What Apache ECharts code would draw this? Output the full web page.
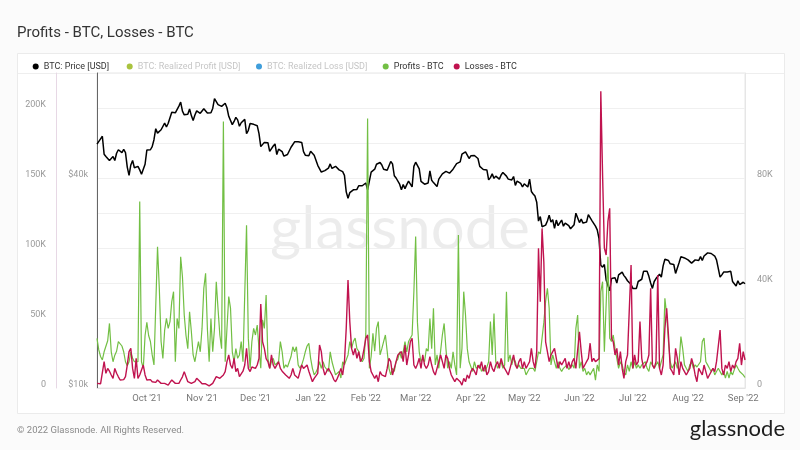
<!DOCTYPE html>
<html>
<head>
<meta charset="utf-8">
<script src="https://cdn.jsdelivr.net/npm/echarts@6/dist/echarts.min.js"></script>
<style>html,body{margin:0;padding:0;background:#fbfbfb}#c{width:800px;height:450px}</style>
</head>
<body>
<div id="c"></div>
<script>
// first date of the daily series and number of days
const startDate = '2021-09-03';
const dayCount = 365;

// BTC price, thousands of USD (daily)
const priceK = [
50.0,49.9,51.8,52.7,46.8,46.1,46.4,44.9,45.2,46.1,44.9,47.1,48.2,47.8,47.3,48.3,47.3,43.0,40.7,43.6,44.9,42.8,42.7,43.2,42.2,41.0,41.5,43.8,
48.1,47.7,48.2,49.2,51.5,55.4,53.8,53.9,55.0,54.7,57.5,56.0,57.4,57.3,61.7,60.9,61.5,62.0,64.3,66.0,62.2,60.7,61.4,60.9,63.1,60.4,58.5,60.6,62.3,61.9,61.3,
61.0,63.2,62.9,61.4,61.0,61.5,63.3,67.6,66.9,64.9,64.9,64.2,64.5,65.5,63.6,60.1,60.4,56.9,58.1,59.7,58.7,56.3,57.6,57.2,58.9,53.6,54.8,57.3,57.8,57.0,
57.2,56.5,53.6,49.2,49.4,50.6,50.6,50.5,47.7,47.2,49.4,50.1,46.7,48.4,48.9,47.6,46.2,46.8,46.7,46.9,49.0,48.6,50.8,50.4,50.8,50.6,50.6,47.6,46.5,47.1,46.3,
47.7,47.3,46.5,45.9,43.5,43.1,41.6,41.8,42.0,41.8,42.7,43.9,42.6,43.1,43.2,43.1,42.2,42.4,41.7,40.7,36.5,35.0,36.3,36.7,37.0,36.9,37.1,38.0,38.5,38.0,38.5,
38.7,37.0,37.3,41.6,41.4,42.4,43.8,44.1,44.3,43.6,42.4,42.2,42.1,42.6,44.6,43.9,40.6,40.0,40.1,38.4,37.0,38.3,37.3,38.3,39.2,39.1,37.7,43.2,
44.4,44.0,42.5,39.1,39.4,38.4,37.9,38.7,41.9,39.4,38.8,38.9,37.8,39.7,39.3,41.1,40.9,41.8,42.2,41.3,41.0,42.4,42.9,44.0,44.3,44.5,46.8,47.1,47.5,47.1,45.5,
46.3,45.8,46.4,46.6,45.5,43.2,43.4,42.3,42.8,42.2,39.5,40.1,41.1,39.9,40.5,40.4,39.7,40.8,41.5,41.4,40.5,39.7,39.5,39.5,40.4,38.1,39.2,39.7,38.6,37.7,
38.5,38.5,37.7,39.7,36.6,36.0,35.5,34.1,30.1,31.0,29.0,29.0,29.3,30.1,31.3,29.9,30.4,28.7,30.3,29.2,29.4,30.3,29.1,29.7,29.5,29.2,28.6,29.0,29.4,31.7,31.8,
29.8,30.5,29.7,29.9,29.9,31.4,31.1,30.2,30.1,29.1,28.4,26.8,22.5,22.2,22.6,20.4,20.5,19.0,20.6,20.6,20.7,20.0,21.1,21.2,21.5,21.0,20.7,20.3,20.1,19.8,
19.3,19.3,19.3,20.2,20.2,20.5,21.6,21.6,21.6,20.9,20.0,19.3,20.2,20.6,20.8,21.2,20.8,22.4,23.4,23.2,23.2,22.7,22.5,22.6,21.3,21.2,22.9,23.8,23.8,23.6,23.3,
23.3,23.0,22.8,22.6,23.3,23.1,23.2,23.8,23.2,23.9,23.9,24.4,24.4,24.3,24.1,23.9,23.3,23.2,20.8,21.1,21.5,21.4,21.5,21.4,21.6,20.2,20.0,19.6,20.3,19.8,20.0,
20.1,19.9
];

// Profits - BTC, thousands of BTC (daily)
const profitsK = [
18.9,14.5,12,10.7,13.8,13.2,18,24.6,13.8,10,12.5,14,17.7,17.5,16,13.8,10,8.5,10,13.8,11.3,10,10,10,71,10,7.5,20,
25,20,17.7,12.6,8.8,8.8,53.8,38,17.7,11.3,22,26.5,22.7,25.3,32.9,36.7,10,26.5,22.7,50,42.4,27.8,20,15,29,21.5,12.6,10,14,17.7,13.8,
22.7,38,43.7,22.7,10,26.5,13.8,22.7,40.5,30,20.2,15,101.5,10,22.7,34.8,30.4,13.8,10,15,11.3,12.6,17.7,10,10,62,19,7.5,17.7,22.7,
20.2,24,15,7.5,26,22.7,35.4,11.3,7.5,10,11.3,8.8,9,10,17.7,13.8,7.5,8.8,8,7.5,12,15.7,13.8,15.7,8.8,7.5,8.8,11,13.8,16,17,
11.3,7.5,5,6,7.5,10,7.5,10,8,7.5,6.3,13.8,10,7.5,5,4.3,6.3,3.8,10,8.8,8.8,12.6,17.7,15,17.7,19,15,14,11.3,10,11.3,
20.8,102.7,7.5,12,20.8,14,22.7,25.3,12.6,15,17.7,20.2,14,7.5,5,7.5,6.3,10,11,13.8,11.3,13.8,17.7,13.8,17.7,18,20.2,36.7,
57.7,25,13.8,10,11.3,10,15,14,26.5,15,30.4,8.8,12.6,7.5,14,20.2,24.6,15,7.5,10,7.5,13.8,8.8,5,58.3,7.5,15,36.7,27.8,15,10,
10,6.3,10,7.5,7.5,8.8,6.3,7.5,6.3,8,10,25.3,12.6,28.4,10,7.5,9,10,7.5,8.8,36.7,10,12.6,8.8,11.3,10,7.5,8.8,7.5,7.5,
7.5,5,6.3,7.5,7.5,7.5,6.3,6.3,13.8,13,19,25,33,38,30.4,8.8,12.6,10,7.5,10,7.5,6.3,7.5,8,8.8,7,8,8.8,7.5,22.7,27.8,
7.5,10,6.3,7.5,5,6.3,5,5,7.5,3,8.8,6.3,36.7,40.5,13.8,14,50,19,17.7,20.2,15,11.3,7.5,10,8.8,6,5,8.8,6.3,10,
7.5,10,7.5,8.8,7.5,8.8,9,10,7.5,6.3,10,8.8,7.5,8.8,10,7.5,7.5,12.6,34.2,27.8,17.7,10,7.5,8.8,10,7.5,10,19.6,15,8.8,7.5,
6.3,8.8,10,7.5,8.8,8,7.5,10,17.7,19,10,8.8,7.5,6.3,7.5,5,6.3,7.5,7.5,5,6.3,3.8,6.3,3.8,6.3,5,7,8.8,7.5,6.3,6.3,
5,4
];

// Losses - BTC, thousands of BTC (daily)
const lossesK = [
3.3,2.1,3,3.3,18.8,10.5,14,12,9.3,6.9,14,10.5,8,5.7,4.5,6,8.1,16.4,26,28.3,14,6.9,21.2,6.9,9.3,12.9,16.4,9.3,
5.7,6.9,6,4.5,3.3,4,5.7,4.5,3.3,4.5,3.3,3,2.1,4,5.7,4.5,3.3,3.3,3.3,5.7,8,11.7,8.1,4.5,3.3,3.3,3.3,4.5,6.9,8.1,4.5,
3,2.1,3,3.3,1.5,1,3.3,4.5,8.1,7.5,6.9,8,9.3,11.7,18.8,23.6,16.4,14,21.2,11.7,14,8.1,9.3,12,16.4,28.3,14,11.7,15,16.4,
14,16.4,21.2,60,33,28.3,21,18.8,14,23.6,16.4,14,14,18.8,14,12,11.7,9.3,8,6.9,9.3,14,9.3,8,6.9,11.7,16.4,14,14,16.4,12,
11.7,4.5,6.9,8.1,10.5,30.7,26,14,9.3,12,14,14,9.3,6,4.5,6.9,10,14,9.3,18.8,42.6,77.1,47.4,28.3,23.6,28.3,21.2,26,18.8,21.2,28,
35.5,37.9,18.8,11.7,9.3,6.9,9.3,4.5,11.7,9.3,8.1,8.1,14,21.2,18.8,9.3,14,18.8,23.6,23.6,26,18.8,30.7,16.4,23.6,33,35.5,16.4,
14,17,21.2,14,23.6,16.4,14,16.4,22.4,16.4,11.7,9.3,14,18.8,23.6,18.8,14,23.6,21.2,14,9.3,6.9,4.5,6.9,5.7,4.5,2.1,6.9,4.5,9.3,6.9,
11.7,14,12,9.3,16.4,14,18.8,12,16.4,9.3,11.7,18.8,14,11.7,16.4,18.8,14,21.2,16.4,14,11.7,9.3,14,18.8,23.6,16.4,14,18.8,21.2,14,
18.8,14,16.4,18.8,28.3,18.8,14,26,99.8,61.7,114,90,33,26,18.8,23.6,26,28.3,21.2,14,18.8,16.4,16.4,21.2,14,18.8,14,18.8,21.2,14,14,
40.2,26,14,16.4,18.8,21.2,32,18.8,21.2,18.8,18.8,21,212,152,100,95,119,128.3,35.5,33,23.6,28.3,16.4,26,14,6.9,18.8,23.6,23.6,87.9,
14,23.6,16.4,18.8,47.4,21.2,14,14,18.8,23.6,71.2,16.4,14,18.8,80.7,14,9.3,16.4,42.6,57,37.9,14,12,9.3,28.3,21.2,9.3,18.8,14,11.7,9.3,
9.3,14,21.2,16.4,9.3,4.5,14,11.7,9.3,16.4,11.7,6.9,9.3,9.3,14,11.7,18.8,30,41.4,14,9.3,16.4,14,18.8,11.7,16.4,14,18.8,21.2,31.9,16.4,
26,20
];

// hidden (switched-off) series of the original chart
const realizedProfitUSD = [];
const realizedLossUSD = [];

// axis tick values
const priceTicksK = [10, 40];
const monthNames = ['Jan','Feb','Mar','Apr','May','Jun','Jul','Aug','Sep','Oct','Nov','Dec'];

// categories: one per day
const dates = [];
(function () {
  const p = startDate.split('-').map(Number);
  const t0 = Date.UTC(p[0], p[1] - 1, p[2]);
  for (let i = 0; i < dayCount; i++) {
    const d = new Date(t0 + i * 86400000);
    dates.push(d.toISOString().slice(0, 10));
  }
})();

const FONT = 'Roboto';
const chart = echarts.init(document.getElementById('c'), null, { renderer: 'canvas' });

function legendAt(left, name, inactive) {
  return {
    left: left, top: 62, padding: 0, itemWidth: 6, itemHeight: 6, icon: 'circle',
    data: [{ name: name, textStyle: { color: inactive ? '#c6c6c6' : '#333' } }],
    textStyle: { fontFamily: FONT, fontSize: 9, color: '#333' },
    selectedMode: false
  };
}

const yLabel = { fontFamily: FONT, fontSize: 9, color: '#999', verticalAlign: 'bottom', lineHeight: 6 };

chart.setOption({
  animation: false,
  backgroundColor: '#fbfbfb',
  title: {
    text: 'Profits - BTC, Losses - BTC', left: 12, top: 21,
    textStyle: { fontFamily: FONT, fontSize: 15, fontWeight: 'normal', color: '#333' }
  },
  graphic: [
    { type: 'rect', z: -10, shape: { x: 17.5, y: 53.5, width: 767, height: 360 },
      style: { fill: '#ffffff', stroke: '#ebebeb', lineWidth: 1 } },
    { type: 'line', z: -5, shape: { x1: 18, y1: 73.5, x2: 784, y2: 73.5 },
      style: { stroke: '#eeeeee', lineWidth: 1 } },
    { type: 'text', z: -1, left: 'center', top: 200,
      style: { text: 'glassnode', fontFamily: 'Lato', fontSize: 60, fill: 'rgba(0,0,0,0.075)' } },
    { type: 'text', left: 17, top: 426,
      style: { text: '\u00a9 2022 Glassnode. All Rights Reserved.', fontFamily: FONT, fontSize: 9.5, fill: '#8a8a8a' } },
    { type: 'text', right: 15, top: 418,
      style: { text: 'glassnode', fontFamily: 'Lato', fontSize: 22, fill: '#1d1d1d' } }
  ],
  legend: [
    legendAt(32.7, 'BTC: Price [USD]', false),
    legendAt(126.7, 'BTC: Realized Profit [USD]', true),
    legendAt(256, 'BTC: Realized Loss [USD]', true),
    legendAt(382.7, 'Profits - BTC', false),
    legendAt(453.7, 'Losses - BTC', false)
  ],
  grid: { left: 97, right: 55, top: 73, bottom: 62, show: true, borderColor: '#e6e6e6', borderWidth: 1, backgroundColor: 'transparent' },
  xAxis: {
    type: 'category', data: dates, boundaryGap: false,
    axisLine: { lineStyle: { color: '#e3e3e3' } },
    axisTick: { show: false },
    axisLabel: {
      interval: function (i, v) { return v.slice(8, 10) === '01'; },
      formatter: function (v) { return monthNames[Number(v.slice(5, 7)) - 1] + " '" + v.slice(2, 4); },
      fontFamily: FONT, fontSize: 9.5, color: '#777', margin: 6
    },
    splitLine: { show: false }
  },
  yAxis: [
    { // Losses - BTC
      type: 'value', position: 'left', offset: 41, min: 0, max: 225, interval: 25,
      axisLine: { show: true, lineStyle: { color: '#e7d8e5' } },
      axisTick: { show: false },
      axisLabel: Object.assign({
        formatter: function (v) { return v === 0 ? '0' : (v % 50 === 0 ? v + 'K' : ''); },
        margin: 10
      }, yLabel),
      splitLine: { show: true, lineStyle: { color: '#f0f0f0' } }
    },
    { // BTC price
      type: 'log', logBase: 10, position: 'left', offset: 0, min: 10, max: 80,
      axisLine: { show: true, lineStyle: { color: '#666' } },
      axisTick: { show: false },
      axisLabel: Object.assign({
        customValues: priceTicksK,
        formatter: function (v) { return '$' + Math.round(v) + 'k'; },
        margin: 9
      }, yLabel),
      splitLine: { show: false }
    },
    { // Profits - BTC
      type: 'value', position: 'right', min: 0, max: 120, interval: 40,
      axisLine: { show: true, lineStyle: { color: '#e6e6e6' } },
      axisTick: { show: false },
      axisLabel: Object.assign({
        showMaxLabel: false,
        formatter: function (v) { return v === 0 ? '0' : v + 'K'; },
        margin: 12
      }, yLabel),
      splitLine: { show: false }
    }
  ],
  series: [
    { name: 'BTC: Price [USD]', type: 'line', yAxisIndex: 1, data: priceK, showSymbol: false,
      color: '#000000', lineStyle: { width: 1.5, color: '#000000' }, z: 3 },
    { name: 'BTC: Realized Profit [USD]', type: 'line', yAxisIndex: 0, data: realizedProfitUSD,
      showSymbol: false, color: '#a9c33f' },
    { name: 'BTC: Realized Loss [USD]', type: 'line', yAxisIndex: 0, data: realizedLossUSD,
      showSymbol: false, color: '#3f9edb' },
    { name: 'Profits - BTC', type: 'line', yAxisIndex: 2, data: profitsK, showSymbol: false,
      color: '#72bf44', lineStyle: { width: 1.2, color: '#72bf44' }, z: 4 },
    { name: 'Losses - BTC', type: 'line', yAxisIndex: 0, data: lossesK, showSymbol: false,
      color: '#c0134f', lineStyle: { width: 1.4, color: '#c0134f' }, z: 5 }
  ]
});
</script>
</body>
</html>
